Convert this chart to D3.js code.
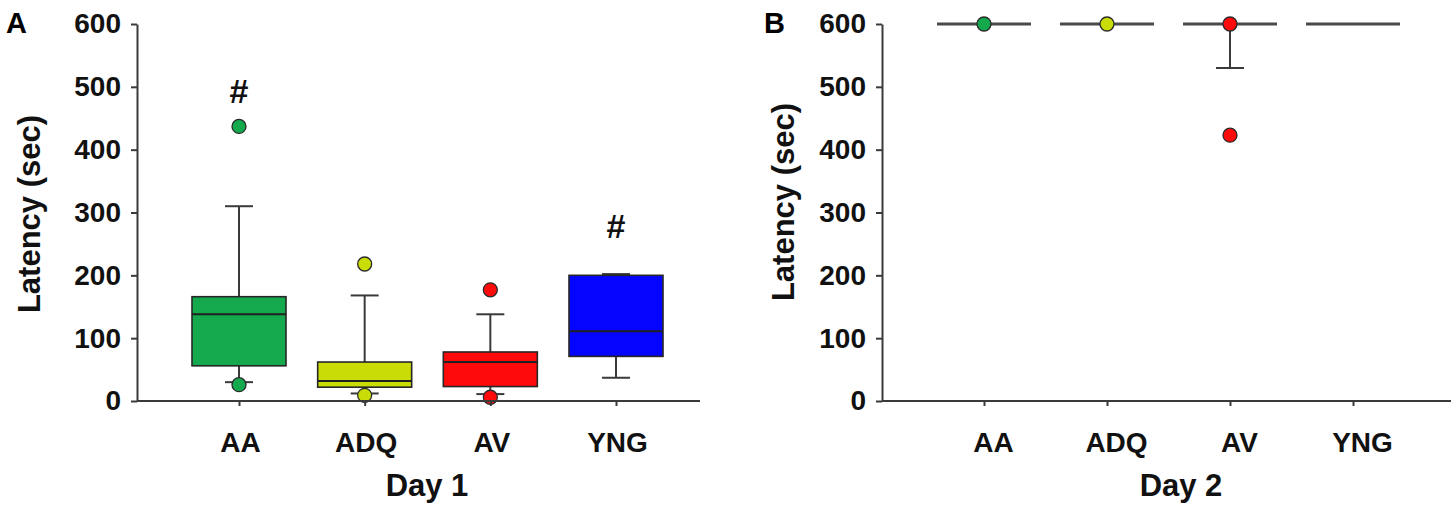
<!DOCTYPE html>
<html>
<head>
<meta charset="utf-8">
<script src="https://cdn.jsdelivr.net/npm/d3@7"></script>
<style>
  body { margin: 0; background: #fff; }
  svg { display: block; font-family: "Liberation Sans", Arial, sans-serif; font-weight: bold; }
</style>
</head>
<body>
<svg id="chart" width="1455" height="511"></svg>
<script>
(function () {

    // groups and their fill colours
    var categories = ["AA", "ADQ", "AV", "YNG"];
    var groupColors = ["#13a94c", "#cadc06", "#ff0a0a", "#0505ff"];
    var yTicks = [0, 100, 200, 300, 400, 500, 600];

    // Day 1 box plot values (sec)
    var day1Q1 = [56, 22, 23, 71];
    var day1Median = [138, 32, 62, 111];
    var day1Q3 = [166, 62, 78, 200];
    var day1WhiskerLow = [30, 12, 11, 37];
    var day1WhiskerHigh = [310, 168, 138, 202];
    var day1Outliers = [[437, 26], [218, 9], [177, 6], []];
    var day1Marks = ["#", "", "", "#"];
    var day1MarkValues = [493, null, null, 279];

    // Day 2 box plot values (sec) - all ceilinged at 600
    var day2Q1 = [600, 600, 600, 600];
    var day2Median = [600, 600, 600, 600];
    var day2Q3 = [600, 600, 600, 600];
    var day2WhiskerLow = [600, 600, 530, 600];
    var day2WhiskerHigh = [600, 600, 600, 600];
    var day2Outliers = [[600], [600], [600, 423], []];

    var top = 24, bottom = 401;
    var boxWidth = 94;
    var capWidth = 28;
    var axisColor = "#3a3a3a";
    var fontFamily = "'Liberation Sans', Arial, sans-serif";

    var svg = d3.select("#chart");

    var yScale = d3.scaleLinear().domain([0, 600]).range([bottom, top]);

    function drawPanel(p) {
        var g = svg.append("g");
        var xScale = d3.scalePoint().domain(categories).range(p.pointRange);

        var rows = categories.map(function (c, i) {
            return {
                name: c, color: groupColors[i],
                q1: p.q1[i], median: p.median[i], q3: p.q3[i],
                lo: p.lo[i], hi: p.hi[i], outliers: p.outliers[i]
            };
        });

        // whiskers
        var wg = g.selectAll("g.whisker").data(rows).enter().append("g")
            .attr("class", "whisker")
            .attr("stroke", axisColor)
            .attr("stroke-width", 2);
        wg.filter(d => d.hi > d.q3).append("line")
            .attr("x1", d => xScale(d.name)).attr("x2", d => xScale(d.name))
            .attr("y1", d => yScale(d.q3)).attr("y2", d => yScale(d.hi));
        wg.filter(d => d.hi > d.q3).append("line")
            .attr("x1", d => xScale(d.name) - capWidth / 2).attr("x2", d => xScale(d.name) + capWidth / 2)
            .attr("y1", d => yScale(d.hi)).attr("y2", d => yScale(d.hi));
        wg.filter(d => d.lo < d.q1).append("line")
            .attr("x1", d => xScale(d.name)).attr("x2", d => xScale(d.name))
            .attr("y1", d => yScale(d.q1)).attr("y2", d => yScale(d.lo));
        wg.filter(d => d.lo < d.q1).append("line")
            .attr("x1", d => xScale(d.name) - capWidth / 2).attr("x2", d => xScale(d.name) + capWidth / 2)
            .attr("y1", d => yScale(d.lo)).attr("y2", d => yScale(d.lo));

        // boxes
        g.selectAll("rect.box").data(rows).enter().append("rect")
            .attr("class", "box")
            .attr("x", d => xScale(d.name) - boxWidth / 2)
            .attr("width", boxWidth)
            .attr("y", d => yScale(d.q3))
            .attr("height", d => yScale(d.q1) - yScale(d.q3))
            .attr("fill", d => d.color)
            .attr("stroke", "#262626")
            .attr("stroke-width", 1.6);
        g.selectAll("line.median").data(rows).enter().append("line")
            .attr("class", "median")
            .attr("x1", d => xScale(d.name) - boxWidth / 2)
            .attr("x2", d => xScale(d.name) + boxWidth / 2)
            .attr("y1", d => yScale(d.median)).attr("y2", d => yScale(d.median))
            .attr("stroke", d => d.q1 === d.q3 ? "#4a4a4a" : "#202020")
            .attr("stroke-width", d => d.q1 === d.q3 ? 3 : 2);

        // outlier points
        var pts = [];
        rows.forEach(function (r) {
            r.outliers.forEach(function (v) { pts.push({ name: r.name, color: r.color, v: v }); });
        });
        g.selectAll("circle").data(pts).enter().append("circle")
            .attr("cx", d => xScale(d.name))
            .attr("cy", d => yScale(d.v))
            .attr("r", 7)
            .attr("fill", d => d.color)
            .attr("stroke", "#2a2a2a")
            .attr("stroke-width", 1.3);

        // significance marks
        if (p.marks) {
            g.selectAll("text.mark").data(categories.filter((c, i) => p.marks[i] !== ""))
                .enter().append("text")
                .attr("class", "mark")
                .attr("x", c => xScale(c))
                .attr("y", c => yScale(p.markValues[categories.indexOf(c)]))
                .attr("dy", "0.36em")
                .attr("text-anchor", "middle")
                .attr("font-size", 34)
                .attr("fill", "#111")
                .text(c => p.marks[categories.indexOf(c)]);
        }

        // y axis
        var yAxis = d3.axisLeft(yScale).tickValues(yTicks).tickSize(6).tickSizeOuter(0).tickPadding(10);
        var ya = g.append("g").attr("transform", "translate(" + p.axisX + ",0)").call(yAxis)
            .attr("font-size", 28).attr("font-family", fontFamily).attr("font-weight", "bold");
        ya.select(".domain").attr("stroke", axisColor).attr("stroke-width", 2);
        ya.selectAll(".tick line").attr("stroke", axisColor).attr("stroke-width", 2);
        ya.selectAll(".tick text").attr("fill", "#111");

        // x axis
        g.append("line")
            .attr("x1", p.axisX).attr("x2", p.axisEnd)
            .attr("y1", bottom).attr("y2", bottom)
            .attr("stroke", axisColor).attr("stroke-width", 2);
        var xAxis = d3.axisBottom(xScale).tickSize(5).tickSizeOuter(0);
        var xa = g.append("g").attr("transform", "translate(0," + bottom + ")").call(xAxis)
            .attr("font-size", 28).attr("font-family", fontFamily).attr("font-weight", "bold");
        xa.select(".domain").remove();
        xa.selectAll(".tick line").attr("stroke", axisColor).attr("stroke-width", 2);
        xa.selectAll(".tick text")
            .attr("y", 51).attr("dy", 0)
            .attr("dx", p.labelShift)
            .attr("fill", "#111");

        // titles
        g.append("text")
            .attr("transform", "translate(" + p.yTitleX + "," + p.yTitleY + ") rotate(-90)")
            .attr("text-anchor", "middle")
            .attr("font-size", 31)
            .attr("fill", "#111")
            .text("Latency (sec)");
        g.append("text")
            .attr("x", p.xTitleX).attr("y", 496)
            .attr("text-anchor", "middle")
            .attr("font-size", 31)
            .attr("fill", "#111")
            .text(p.xTitle);
        g.append("text")
            .attr("x", p.letterX).attr("y", 33)
            .attr("font-size", 29)
            .attr("fill", "#000")
            .text(p.letter);
    }

    drawPanel({
        letter: "A", letterX: 6,
        axisX: 137, axisEnd: 700, pointRange: [239, 616], labelShift: 1,
        q1: day1Q1, median: day1Median, q3: day1Q3, lo: day1WhiskerLow, hi: day1WhiskerHigh,
        outliers: day1Outliers, marks: day1Marks, markValues: day1MarkValues,
        yTitleX: 40, yTitleY: 214, xTitle: "Day 1", xTitleX: 427
    });

    drawPanel({
        letter: "B", letterX: 764,
        axisX: 882, axisEnd: 1451, pointRange: [984, 1353], labelShift: 9,
        q1: day2Q1, median: day2Median, q3: day2Q3, lo: day2WhiskerLow, hi: day2WhiskerHigh,
        outliers: day2Outliers, marks: null,
        yTitleX: 794, yTitleY: 202, xTitle: "Day 2", xTitleX: 1181
    });

})();
</script>
</body>
</html>
